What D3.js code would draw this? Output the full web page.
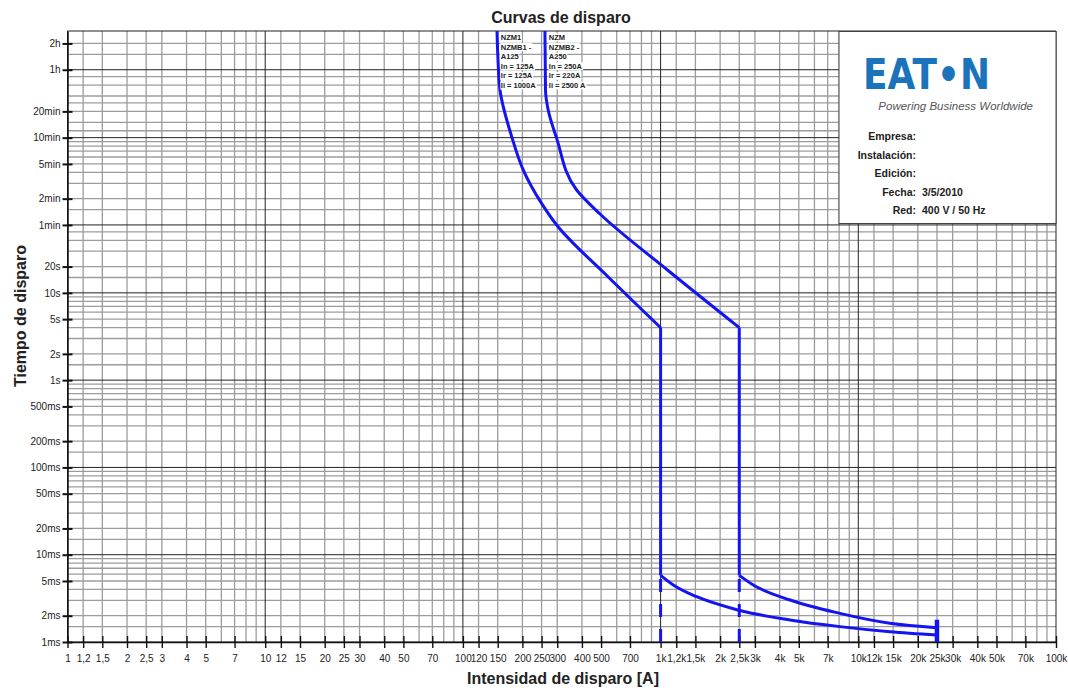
<!DOCTYPE html>
<html>
<head>
<meta charset="utf-8">
<script src="https://cdn.jsdelivr.net/npm/d3@7"></script>
<style>
  body { margin: 0; background: #fff; }
  svg { display: block; font-family: "Liberation Sans", Arial, sans-serif; }
</style>
</head>
<body>
<svg id="chart" width="1068" height="690"></svg>
<script>
// tick labels
const xTickValues = [1, 1.2, 1.5, 2, 2.5, 3, 4, 5, 7, 10, 12, 15, 20, 25, 30, 40, 50, 70,
  100, 120, 150, 200, 250, 300, 400, 500, 700, 1000, 1200, 1500, 2000, 2500, 3000, 4000, 5000, 7000,
  10000, 12000, 15000, 20000, 25000, 30000, 40000, 50000, 70000, 100000];
const xTickLabels = ["1", "1,2", "1,5", "2", "2,5", "3", "4", "5", "7", "10", "12", "15", "20", "25", "30", "40", "50", "70",
  "100", "120", "150", "200", "250", "300", "400", "500", "700", "1k", "1,2k", "1,5k", "2k", "2,5k", "3k", "4k", "5k", "7k",
  "10k", "12k", "15k", "20k", "25k", "30k", "40k", "50k", "70k", "100k"];
const yTickValues = [0.001, 0.002, 0.005, 0.01, 0.02, 0.05, 0.1, 0.2, 0.5, 1, 2, 5, 10, 20, 60, 120, 300, 600, 1200, 3600, 7200];
const yTickLabels = ["1ms", "2ms", "5ms", "10ms", "20ms", "50ms", "100ms", "200ms", "500ms", "1s", "2s", "5s", "10s", "20s",
  "1min", "2min", "5min", "10min", "20min", "1h", "2h"];

// grid
const gridXMinor = [1.2, 1.5, 2, 2.5, 3, 4, 5, 6, 7, 8, 9];
const gridXMajor = [1, 10, 100, 1000, 10000, 100000];
const gridYMinor = [0.0015, 0.002, 0.003, 0.004, 0.005, 0.006, 0.007, 0.008, 0.009,
  0.015, 0.02, 0.03, 0.04, 0.05, 0.06, 0.07, 0.08, 0.09,
  0.15, 0.2, 0.3, 0.4, 0.5, 0.6, 0.7, 0.8, 0.9,
  1.5, 2, 3, 4, 5, 6, 7, 8, 9,
  15, 20, 30, 40, 50, 90, 120, 180, 240, 300, 360, 420, 480, 540,
  720, 900, 1200, 1500, 1800, 2400, 3000, 5400, 7200];
const gridYMajor = [0.001, 0.01, 0.1, 1, 10, 60, 600, 3600, 10000];

// NZM1 (In 125A, Ii 1000A): current [A], time [s]
const nzm1UpperI = [148.8, 150.5, 154, 176.6, 202, 250, 298, 542, 1000];
const nzm1UpperT = [10000, 4650, 2108, 615, 255, 106, 59.9, 15.3, 4];
const nzm1LowerI = [1000, 1159, 1523, 2455, 4513, 8074, 14450, 25000];
const nzm1LowerT = [0.0058, 0.0045, 0.0033, 0.00233, 0.00179, 0.0015, 0.00131, 0.0012];

// NZM (In 250A, Ii 2500A)
const nzm2UpperI = [260, 261.7, 270, 298, 376, 494, 1103, 2500];
const nzm2UpperT = [10000, 2108, 1243, 589, 150.7, 80, 17.7, 4];
const nzm2LowerI = [2500, 2943, 4513, 8074, 14450, 25000];
const nzm2LowerT = [0.0058, 0.0045, 0.00303, 0.00213, 0.00164, 0.00146];

// dashed continuations and end marker
const dashI = [1000, 2500];
const dashTop = 0.0058;
const endI = 25000;
const endT = [0.001, 0.0018];

const legend1 = ["NZM1", "NZMB1 -", "A125", "In = 125A", "Ir = 125A", "Ii = 1000A"];
const legend2 = ["NZM", "NZMB2 -", "A250", "In = 250A", "Ir = 220A", "Ii = 2500 A"];
const infoLabels = ["Empresa:", "Instalación:", "Edición:", "Fecha:", "Red:"];
const infoValues = ["", "", "", "3/5/2010", "400 V / 50 Hz"];

const svg = d3.select("#chart");
const x = d3.scaleLog().domain([1, 100000]).range([67.5, 1056]);
const y = d3.scaleLog().domain([0.001, 10000]).range([642, 31]);
const blue = "#1414f0";

// minor vertical grid
const vMinor = [];
[1, 10, 100, 1000, 10000].forEach(dec => gridXMinor.forEach(m => vMinor.push(dec * m)));
svg.append("g").selectAll("line").data(vMinor).enter().append("line")
  .attr("x1", d => x(d)).attr("x2", d => x(d))
  .attr("y1", y(10000)).attr("y2", y(0.001))
  .attr("stroke", "#9c9c9c").attr("stroke-width", 1.3);

svg.append("g").selectAll("line").data(gridYMinor).enter().append("line")
  .attr("x1", x(1)).attr("x2", x(100000))
  .attr("y1", d => y(d)).attr("y2", d => y(d))
  .attr("stroke", "#9c9c9c").attr("stroke-width", 1.3);

svg.append("g").selectAll("line").data(gridXMajor).enter().append("line")
  .attr("x1", d => x(d)).attr("x2", d => x(d))
  .attr("y1", y(10000)).attr("y2", y(0.001))
  .attr("stroke", "#222").attr("stroke-width", 1);

svg.append("g").selectAll("line").data(gridYMajor).enter().append("line")
  .attr("x1", x(1)).attr("x2", x(100000))
  .attr("y1", d => y(d)).attr("y2", d => y(d))
  .attr("stroke", "#222").attr("stroke-width", 1);

// axes
const xAxis = svg.append("g")
  .attr("transform", `translate(0,${y(0.001)})`)
  .call(d3.axisBottom(x).tickValues(xTickValues).tickFormat((d, i) => xTickLabels[i]).tickSizeOuter(0));
xAxis.select(".domain").attr("stroke", "#111").attr("stroke-width", 1.5);
xAxis.selectAll(".tick line").attr("y1", -6).attr("y2", 6).attr("stroke", "#111").attr("stroke-width", 1.4);
xAxis.selectAll(".tick text").attr("y", 13).attr("font-size", 10).attr("fill", "#222")
  .attr("font-family", "Liberation Sans, Arial, sans-serif");

const yAxis = svg.append("g")
  .attr("transform", `translate(${x(1)},0)`)
  .call(d3.axisLeft(y).tickValues(yTickValues).tickFormat((d, i) => yTickLabels[i]).tickSizeOuter(0));
yAxis.select(".domain").attr("stroke", "#111").attr("stroke-width", 1.5);
yAxis.selectAll(".tick line").attr("x1", -5).attr("x2", 5).attr("stroke", "#111").attr("stroke-width", 2);
yAxis.selectAll(".tick text").attr("x", -7).attr("font-size", 10).attr("fill", "#222")
  .attr("font-family", "Liberation Sans, Arial, sans-serif");

// curves
const upperLine = d3.line().x(d => x(d[0])).y(d => y(d[1])).curve(d3.curveMonotoneY);
const lowerLine = d3.line().x(d => x(d[0])).y(d => y(d[1])).curve(d3.curveMonotoneX);
const straight = d3.line().x(d => x(d[0])).y(d => y(d[1]));

function drawCurve(ui, ut, li, lt) {
  const upper = ui.map((v, i) => [v, ut[i]]);
  const lower = li.map((v, i) => [v, lt[i]]);
  const g = svg.append("g").attr("fill", "none").attr("stroke", blue)
    .attr("stroke-width", 3).attr("stroke-linejoin", "round");
  g.append("path").attr("d", upperLine(upper));
  g.append("path").attr("d", straight([upper[upper.length - 1], lower[0]]));
  g.append("path").attr("d", lowerLine(lower));
}
drawCurve(nzm1UpperI, nzm1UpperT, nzm1LowerI, nzm1LowerT);
drawCurve(nzm2UpperI, nzm2UpperT, nzm2LowerI, nzm2LowerT);

svg.append("g").selectAll("line").data(dashI).enter().append("line")
  .attr("x1", d => x(d)).attr("x2", d => x(d))
  .attr("y1", y(0.001)).attr("y2", y(dashTop))
  .attr("stroke", blue).attr("stroke-width", 3).attr("stroke-dasharray", "13,12");

svg.append("path").attr("d", straight(endT.map(t => [endI, t])))
  .attr("stroke", blue).attr("stroke-width", 4.5).attr("fill", "none");

// curve labels
function drawLegend(lines, px) {
  const g = svg.append("g");
  lines.forEach((s, i) => {
    const t = g.append("text")
      .attr("x", x(px)).attr("y", 40 + i * 9.6)
      .attr("font-size", 7.5).attr("fill", "#222")
      .attr("font-weight", "bold")
      .text(s);
    const b = t.node().getBBox();
    g.insert("rect", "text").attr("x", b.x - 0.5).attr("y", b.y + 0.5)
      .attr("width", b.width + 1).attr("height", b.height - 1).attr("fill", "#fff");
  });
}
drawLegend(legend1, 155.5);
drawLegend(legend2, 272);

// info box
svg.append("rect").attr("x", 839).attr("y", 31.5).attr("width", 217).attr("height", 192)
  .attr("fill", "#fff").attr("stroke", "#444").attr("stroke-width", 1);
svg.append("text").attr("x", 863).attr("y", 89)
  .attr("font-family", "DejaVu Sans, sans-serif").attr("font-weight", "bold")
  .attr("font-size", 42).attr("fill", "#1b74bb")
  .attr("textLength", 127).attr("lengthAdjust", "spacingAndGlyphs")
  .text("EAT•N");
svg.append("text").attr("x", 1033).attr("y", 110).attr("text-anchor", "end")
  .attr("font-size", 11.5).attr("font-style", "italic").attr("fill", "#555")
  .text("Powering Business Worldwide");
infoLabels.forEach((s, i) => {
  const yy = 140 + i * 18.6;
  svg.append("text").attr("x", 916).attr("y", yy).attr("text-anchor", "end")
    .attr("font-size", 10.5).attr("font-weight", "bold").attr("fill", "#222").text(s);
  svg.append("text").attr("x", 922).attr("y", yy)
    .attr("font-size", 10.5).attr("font-weight", "bold").attr("fill", "#222").text(infoValues[i]);
});

// titles
svg.append("text").attr("x", 561).attr("y", 23).attr("text-anchor", "middle")
  .attr("font-size", 16).attr("font-weight", "bold").attr("fill", "#222").text("Curvas de disparo");
svg.append("text").attr("x", 563).attr("y", 684).attr("text-anchor", "middle")
  .attr("font-size", 16).attr("font-weight", "bold").attr("fill", "#222").text("Intensidad de disparo [A]");
svg.append("text").attr("transform", "translate(26,316) rotate(-90)").attr("text-anchor", "middle")
  .attr("font-size", 16).attr("font-weight", "bold").attr("fill", "#222").text("Tiempo de disparo");
</script>
</body>
</html>
